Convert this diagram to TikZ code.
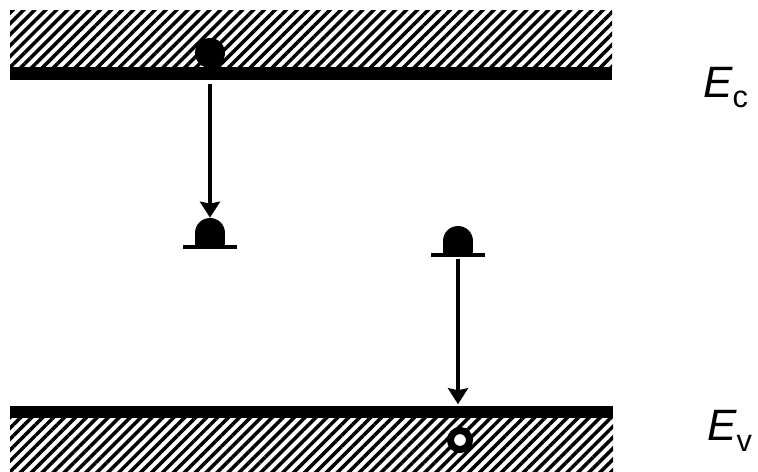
\documentclass[tikz,border=0pt]{standalone}
\usepackage{fontspec}
\setmainfont{Liberation Sans}
\usetikzlibrary{arrows.meta, patterns.meta, positioning}

\begin{document}
\begin{tikzpicture}[
        x=0.02cm,
        y=0.02cm,
        hatch/.style={pattern={Lines[angle=45, distance=4.4pt, line width=2pt]}},
        bandEdge/.style={fill=black},
        level/.style={line width=0.08cm},
        transition/.style={line width=0.08cm, -{Stealth[length=0.32cm, width=0.4cm, inset=0.04cm]}},
        electron/.style={circle, fill=black, minimum size=0.6cm, inner sep=0pt},
        hole/.style={circle, draw=black, fill=white, line width=0.14cm, minimum size=0.38cm, inner sep=0pt},
        bandLabel/.style={anchor=base west, inner sep=0pt, font=\fontsize{25}{30}\selectfont\itshape}
    ]
        \useasboundingbox (0,0) rectangle (758,471);

        % conduction band
        \fill[hatch] (10,404) rectangle (612,460);
        \node[electron] (elC) at (210,418) {};
        \fill[bandEdge] (10,391) rectangle (612,404);
        \coordinate (cbEdge) at (210,391);

        % valence band
        \fill[hatch] (10,0) rectangle (613,53);
        \fill[bandEdge] (10,53) rectangle (613,65);
        \coordinate (vbEdge) at (458,65);
        \node[hole] (hv) at (460,31) {};

        % trap levels with captured electrons
        \foreach \name/\x/\y in {A/210/224, B/458/216} {
            \draw[level] (\x-27,\y) -- (\x+27,\y);
            \fill (\x-15,\y) rectangle (\x+15,\y+14);
            \node[electron] (el\name) at (\x,\y+14) {};
            \coordinate (trap\name) at (\x,\y);
        }

        \draw[transition, shorten <=2pt] (cbEdge) -- (elA);
        \draw[transition, shorten <=2pt, shorten >=1pt] (trapB) -- (vbEdge);

        \node[bandLabel] (lblC) at (703,374) {E\raisebox{-0.22cm}{\fontsize{17.5}{20}\selectfont\upshape c}};
        \node[bandLabel] (lblV) at (707,31) {E\raisebox{-0.22cm}{\fontsize{17.5}{20}\selectfont\upshape v}};
    \end{tikzpicture}
\end{document}
